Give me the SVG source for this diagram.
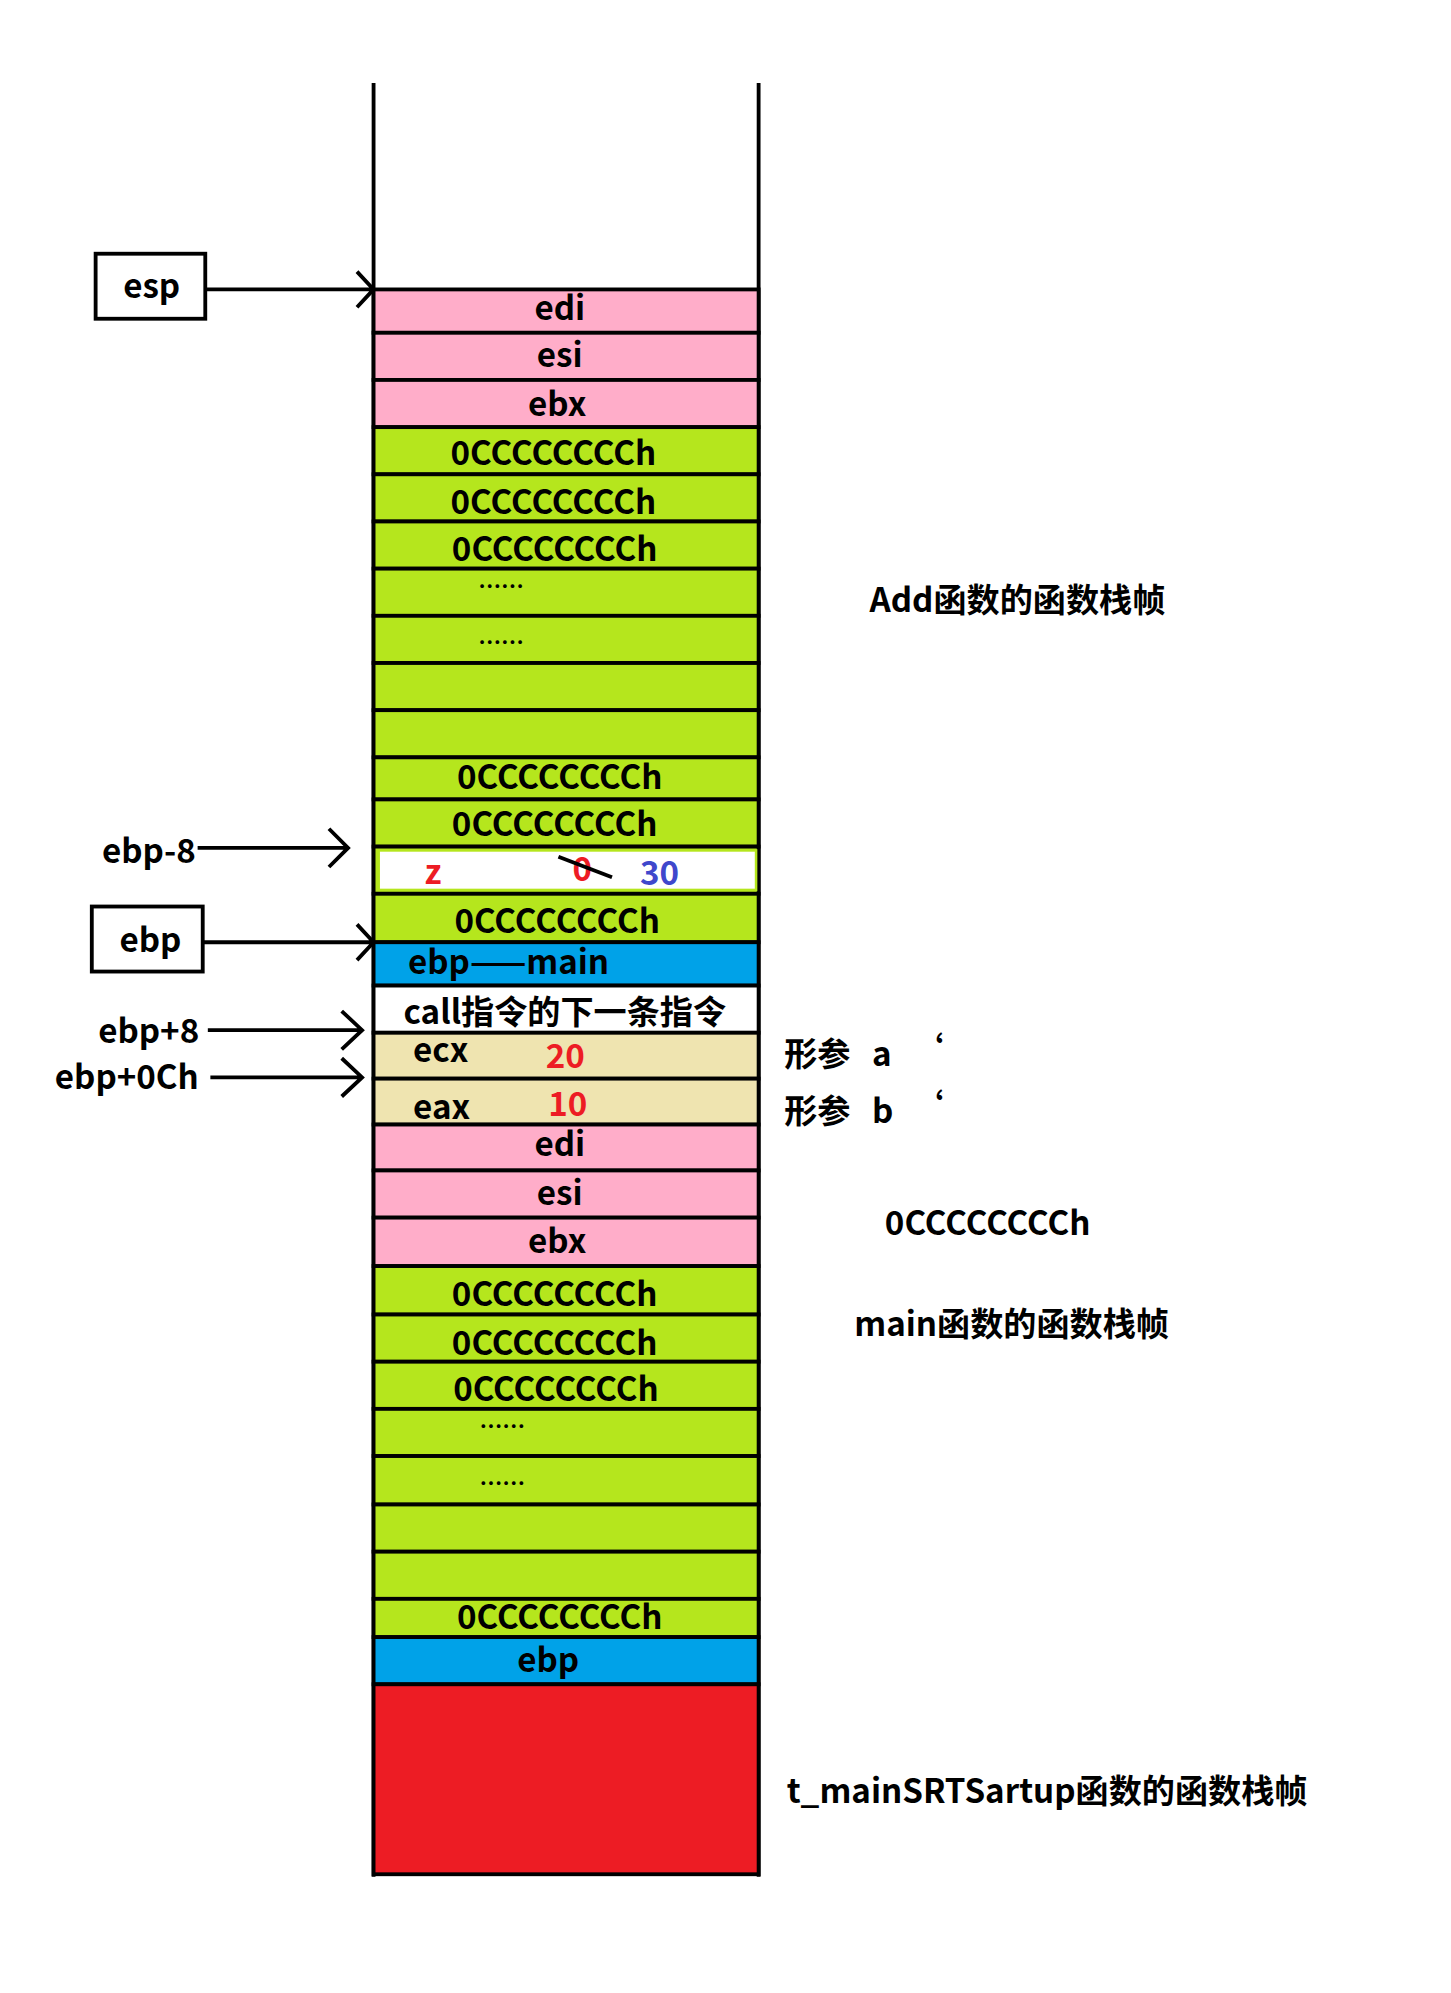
<svg xmlns="http://www.w3.org/2000/svg" width="1451" height="1993" viewBox="0 0 1451 1993">
<style>
.c{stroke:#000;stroke-width:3}
.p{fill:#FFADC9}.g{fill:#B5E61D}.b{fill:#00A2E8}.t{fill:#EFE4B0}.w{fill:#fff}.r{fill:#ED1C24}
text{font-family:"Noto Sans CJK SC","Noto Sans",sans-serif;font-weight:bold;font-size:26px;dominant-baseline:central}
.m{text-anchor:middle}
.d{font-size:18px}
.ln{stroke:#000;stroke-width:3;fill:none}
</style>
<rect width="1451" height="1993" fill="#fff"/>
<g transform="scale(1.275)">
<g id="stack">
<line class="ln" x1="293" y1="65" x2="293" y2="1472"/>
<line class="ln" x1="595" y1="65" x2="595" y2="1472"/>
<rect class="c p" x="293" y="227" width="302" height="34"/><text class="m" x="439" y="240">edi</text>
<rect class="c p" x="293" y="261" width="302" height="37"/><text class="m" x="439" y="277">esi</text>
<rect class="c p" x="293" y="298" width="302" height="37"/><text class="m" x="437" y="315">ebx</text>
<rect class="c g" x="293" y="335" width="302" height="37"/><text class="m" x="434" y="354">0CCCCCCCCh</text>
<rect class="c g" x="293" y="372" width="302" height="37"/><text class="m" x="434" y="392">0CCCCCCCCh</text>
<rect class="c g" x="293" y="409" width="302" height="37"/><text class="m" x="435" y="429">0CCCCCCCCh</text>
<rect class="c g" x="293" y="446" width="302" height="37"/><text class="m d" x="393" y="459">……</text>
<rect class="c g" x="293" y="483" width="302" height="37"/><text class="m d" x="393" y="503">……</text>
<rect class="c g" x="293" y="520" width="302" height="37"/>
<rect class="c g" x="293" y="557" width="302" height="37"/>
<rect class="c g" x="293" y="594" width="302" height="33"/><text class="m" x="439" y="608">0CCCCCCCCh</text>
<rect class="c g" x="293" y="627" width="302" height="37"/><text class="m" x="435" y="645">0CCCCCCCCh</text>
<rect class="c g" x="293" y="664" width="302" height="37"/>
<rect x="297" y="667" width="296" height="31" fill="#fff" stroke="#B5E61D" stroke-width="2"/>
<text x="333" y="682" fill="#ED1C24">z</text>
<text x="449" y="680" fill="#ED1C24">0</text>
<line class="ln" x1="438" y1="672" x2="480" y2="688"/>
<text x="502" y="683" fill="#3F48CC">30</text>
<rect class="c g" x="293" y="701" width="302" height="38"/><text class="m" x="437" y="721">0CCCCCCCCh</text>
<rect class="c b" x="293" y="739" width="302" height="34"/><text x="320" y="753">ebp——main</text>
<rect class="c w" x="293" y="773" width="302" height="37"/><text class="m" x="443" y="792">call指令的下一条指令</text>
<rect class="c t" x="293" y="810" width="302" height="36"/><text x="324" y="822">ecx</text><text x="428" y="827" fill="#ED1C24">20</text>
<rect class="c t" x="293" y="846" width="302" height="36"/><text x="324" y="867">eax</text><text x="430" y="864" fill="#ED1C24">10</text>
<rect class="c p" x="293" y="882" width="302" height="36"/><text class="m" x="439" y="896">edi</text>
<rect class="c p" x="293" y="918" width="302" height="37"/><text class="m" x="439" y="934">esi</text>
<rect class="c p" x="293" y="955" width="302" height="38"/><text class="m" x="437" y="972">ebx</text>
<rect class="c g" x="293" y="993" width="302" height="38"/><text class="m" x="435" y="1013">0CCCCCCCCh</text>
<rect class="c g" x="293" y="1031" width="302" height="37"/><text class="m" x="435" y="1052">0CCCCCCCCh</text>
<rect class="c g" x="293" y="1068" width="302" height="37"/><text class="m" x="436" y="1088">0CCCCCCCCh</text>
<rect class="c g" x="293" y="1105" width="302" height="37"/><text class="m d" x="394" y="1118">……</text>
<rect class="c g" x="293" y="1142" width="302" height="38"/><text class="m d" x="394" y="1162">……</text>
<rect class="c g" x="293" y="1180" width="302" height="37"/>
<rect class="c g" x="293" y="1217" width="302" height="37"/>
<rect class="c g" x="293" y="1254" width="302" height="30"/><text class="m" x="439" y="1267">0CCCCCCCCh</text>
<rect class="c b" x="293" y="1284" width="302" height="37"/><text class="m" x="430" y="1300">ebp</text>
<rect class="c r" x="293" y="1321" width="302" height="149"/>
</g>
<g id="pointers">
<rect x="75" y="199" width="86" height="51" fill="#fff" stroke="#000" stroke-width="3"/><text class="m" x="119" y="223">esp</text>
<rect x="72" y="711" width="87" height="51" fill="#fff" stroke="#000" stroke-width="3"/><text class="m" x="118" y="736">ebp</text>
<text x="80" y="666">ebp-8</text>
<text x="77" y="807">ebp+8</text>
<text x="43" y="843">ebp+0Ch</text>
</g>
<g id="connectors">
<path class="ln" d="M161 227H293M280 213L293 227L280 241"/>
<path class="ln" d="M159 739H293M280 725L293 739L280 753"/>
<path class="ln" d="M155 665H273M258 650L273 665L258 680"/>
<path class="ln" d="M163 808H284M268 793L284 808L268 823"/>
<path class="ln" d="M165 845H284M268 830L284 845L268 860"/>
</g>
<g id="labels">
<text x="682" y="469">Add函数的函数栈帧</text>
<text x="615" y="825">形参</text><text x="684" y="825">a</text><text x="714" y="821">‘</text>
<text x="615" y="870">形参</text><text x="684" y="870">b</text><text x="714" y="866">‘</text>
<text x="694" y="958">0CCCCCCCCh</text>
<text x="670" y="1037">main函数的函数栈帧</text>
<text x="617" y="1403">t_mainSRTSartup函数的函数栈帧</text>
</g>
</g>
</svg>
